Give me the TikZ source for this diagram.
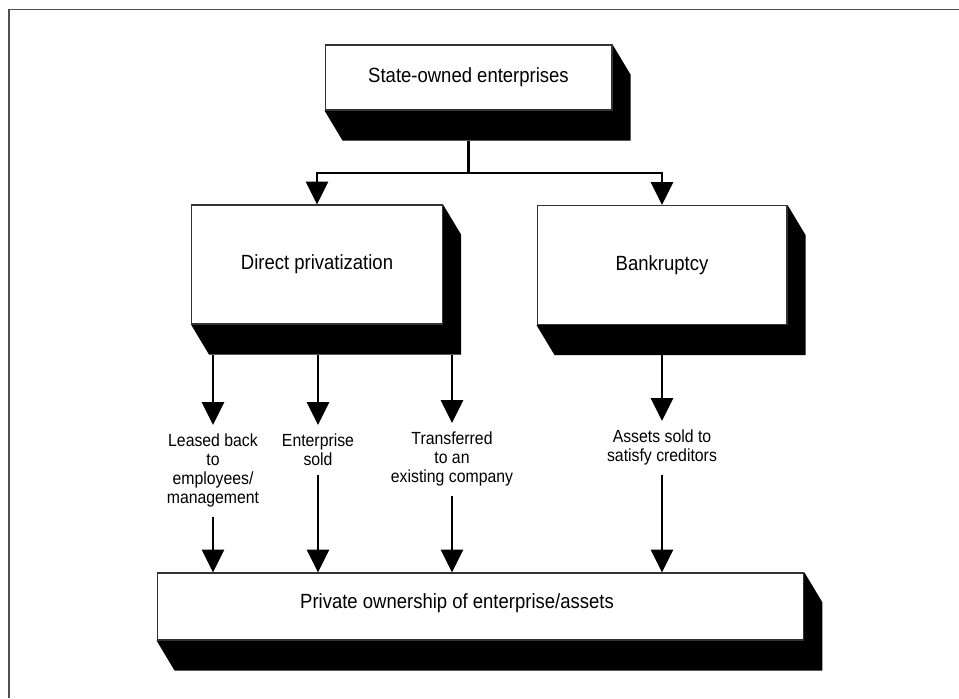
\documentclass[tikz,border=0pt]{standalone}
\usepackage{fontspec}
\setmainfont{Liberation Sans}[FakeStretch=0.9]
\usepackage{tikz}
\usetikzlibrary{arrows.meta,positioning,calc,backgrounds}
\definecolor{framegray}{rgb}{0.31,0.31,0.31}
\definecolor{edgegray}{rgb}{0.2,0.2,0.2}
\tikzset{
  box/.style={draw=edgegray, line width=0.6pt, fill=white, font=\fontsize{11.7}{14}\selectfont},
  outcome/.style={align=center, inner xsep=2pt, inner ysep=5pt, font=\fontsize{10}{10.8}\selectfont},
  flow/.style={line width=1.4pt, -{Triangle[width=12.5pt,length=13pt]}},
}

\begin{document}
\begin{tikzpicture}[x=0.02cm, y=-0.02cm]
            \useasboundingbox (0,0) rectangle (959,698);
            \draw[framegray, line width=1.1pt] (9,698) -- (9,9.5) -- (959,9.5);

            % boxes
            \node[box, minimum width=5.74cm, minimum height=1.3cm] (soe) at (468.5,77.5) {State-owned enterprises};
            \node[box, minimum width=5.02cm, minimum height=2.38cm] (direct) at (317,264.5) {Direct privatization};
            \node[box, minimum width=5.0cm, minimum height=2.38cm] (bankrupt) at (662,265) {Bankruptcy};
            \node[box, minimum width=12.94cm, minimum height=1.34cm,
                  label={[xshift=-0.47cm, yshift=0.07cm, font=\fontsize{11.7}{14}\selectfont]center:Private ownership of enterprise/assets}] (private) at (480.5,606.5) {};

            % shadows
            \begin{scope}[on background layer]
            \foreach \n in {soe,direct,bankrupt,private}{
                \fill[black] (\n.south west) -- ($(\n.south west)+(18,30)$) -- ($(\n.south east)+(18,30)$)
                    -- ($(\n.north east)+(18,30)$) -- (\n.north east) -- cycle;
                \coordinate (\n-foot) at ($(\n.south)+(0,30)$);
            }
            \end{scope}

            % outcomes
            \node[outcome, anchor=north] (leased) at (213,425) {Leased back\\to\\employees/\\management};
            \node[outcome, anchor=north] (sold) at (318,425) {Enterprise\\sold};
            \node[outcome, anchor=north] (transfer) at (452,423) {Transferred\\to an\\existing company};
            \node[outcome, anchor=north] (assets) at (662,421) {Assets sold to\\satisfy creditors};

            \draw[line width=1.4pt] (soe-foot) -- (soe-foot |- 0,173) coordinate (split);
            \draw[flow] (split) -| (direct.north);
            \draw[flow] (split) -| (bankrupt.north);
            \foreach \o in {leased,sold,transfer}{
                \draw[flow] (\o |- direct-foot) -- (\o.north);
                \draw[flow] (\o.south) -- (\o |- private.north);
            }
            \draw[flow] (bankrupt-foot) -- (assets.north);
            \draw[flow] (assets.south) -- (assets |- private.north);
\end{tikzpicture}
\end{document}
